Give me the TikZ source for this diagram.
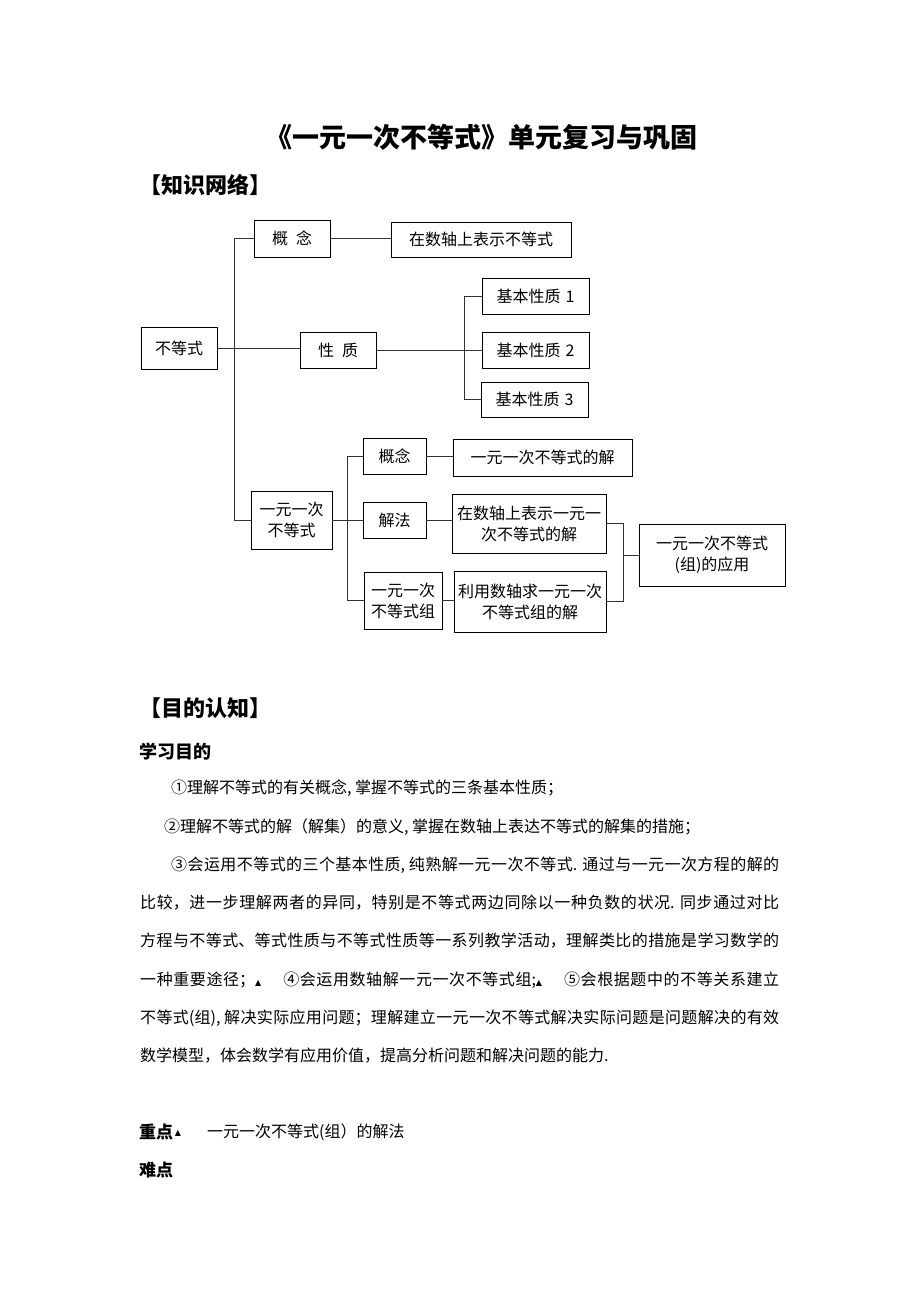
\documentclass[tikz,border=0pt]{standalone}
\usepackage{fontspec}
\setmainfont{Noto Sans CJK SC}
\newfontfamily\djv{DejaVu Sans}
\XeTeXlinebreaklocale "zh"
\XeTeXlinebreakskip=0pt plus 5pt
\newcommand{\tri}{{\djv\fontsize{8pt}{8pt}\selectfont ▲}}
\newcommand{\jfill}[2]{\parbox{#1}{\parindent=0pt\leftskip=0pt\rightskip=0pt\parfillskip=0pt #2}}
\begin{document}
\begin{tikzpicture}[x=1pt,y=-1pt,
  box/.style={draw=black, line width=0.9pt, inner sep=0pt, align=center,
    font=\fontsize{16pt}{21pt}\selectfont},
  conn/.style={draw=black!80, line width=0.8pt},
  body/.style={anchor=west, inner sep=0pt, font=\fontsize{16pt}{20pt}\selectfont},
  head/.style={anchor=west, inner sep=0pt, font=\bfseries\fontsize{22pt}{24pt}\selectfont},
  subhead/.style={anchor=west, inner sep=0pt, font=\bfseries\fontsize{18pt}{20pt}\selectfont}
]
\fill[white] (0,0) rectangle (920,1303);
\useasboundingbox (0,0) rectangle (920,1303);

% headings
\node[inner sep=0pt, font=\bfseries\fontsize{27pt}{30pt}\selectfont] (title) at (481,137) {《一元一次不等式》单元复习与巩固};
\node[head] (h1) at (139,185) {【知识网络】};

% diagram boxes
\node[box, minimum width=76pt, minimum height=42pt] (ineq) at (179,348) {不等式};
\node[box, minimum width=76pt, minimum height=37pt] (gn1) at (292,238.5) {概\hspace{8pt}念};
\node[box, minimum width=180pt, minimum height=35pt] (axis) at (481,239.5) {在数轴上表示不等式};
\node[box, minimum width=76pt, minimum height=36pt] (xz) at (338,350) {性\hspace{8pt}质};
\node[box, minimum width=107pt, minimum height=36pt] (p1) at (535.5,296) {基本性质\hspace{5pt}1};
\node[box, minimum width=107pt, minimum height=36pt] (p2) at (535.5,350) {基本性质\hspace{5pt}2};
\node[box, minimum width=107pt, minimum height=35pt] (p3) at (534.5,399.5) {基本性质\hspace{5pt}3};
\node[box, minimum width=81pt, minimum height=58pt] (yy) at (291.5,520) {一元一次\\不等式};
\node[box, minimum width=63pt, minimum height=36pt] (gn2) at (394.5,456) {概念};
\node[box, minimum width=63pt, minimum height=36pt] (jf) at (394.5,520) {解法};
\node[box, minimum width=78pt, minimum height=57pt] (zu) at (403,600.5) {一元一次\\不等式组};
\node[box, minimum width=179pt, minimum height=37pt] (jie) at (542.5,457.5) {一元一次不等式的解};
\node[box, minimum width=154pt, minimum height=59pt] (sz) at (529,523.5) {在数轴上表示一元一\\次不等式的解};
\node[box, minimum width=152pt, minimum height=61pt] (ly) at (530,601.5) {利用数轴求一元一次\\不等式组的解};
\node[box, minimum width=146pt, minimum height=62pt] (app) at (712,555) {一元一次不等式\\(组)的应用};

% connectors
\draw[conn] (gn1.west) -- ++(-19,0) |- (yy.west);
\draw[conn] (ineq.east) -- (ineq.east -| xz.west);
\draw[conn] (gn1.east) -- (gn1.east -| axis.west);
\draw[conn] (p1.west) -- ++(-17,0) |- (p3.west);
\draw[conn] (xz.east) -- (xz.east -| p2.west);
\draw[conn] (gn2.west) -- ++(-15,0) |- (zu.west);
\draw[conn] (yy.east) -- (yy.east -| jf.west);
\draw[conn] (gn2.east) -- (gn2.east -| jie.west);
\draw[conn] (jf.east) -- (jf.east -| sz.west);
\draw[conn] (zu.east) -- (zu.east -| ly.west);
\draw[conn] (sz.east) -- ++(17,0) |- (ly.east);
\draw[conn] (app.west) -- ++(-16,0);

% text section
\node[head] (h2) at (139,708) {【目的认知】};
\node[subhead] (h3) at (139,752) {学习目的};
\node[body] (l1) at (171,788) {①理解不等式的有关概念, 掌握不等式的三条基本性质；};
\node[body] (l2) at (164,827) {②理解不等式的解（解集）的意义, 掌握在数轴上表达不等式的解集的措施；};
\node[body] (l3) at (171,865) {\jfill{608pt}{③会运用不等式的三个基本性质, 纯熟解一元一次不等式. 通过与一元一次方程的解的}};
\node[body] (l4) at (140,903) {\jfill{639pt}{比较，进一步理解两者的异同，特别是不等式两边同除以一种负数的状况. 同步通过对比}};
\node[body] (l5) at (140,941) {\jfill{639pt}{方程与不等式、等式性质与不等式性质等一系列教学活动，理解类比的措施是学习数学的}};
\node[body] (l6) at (140,980) {\jfill{639pt}{一种重要途径；\tri\hspace{22pt}④会运用数轴解一元一次不等式组;\tri\hspace{22pt}⑤会根据题中的不等关系建立}};
\node[body] (l7) at (140,1018) {\jfill{639pt}{不等式(组), 解决实际应用问题；理解建立一元一次不等式解决实际问题是问题解决的有效}};
\node[body] (l8) at (140,1056) {数学模型，体会数学有应用价值，提高分析问题和解决问题的能力.};

\node[subhead, font=\bfseries\fontsize{17pt}{20pt}\selectfont] (zd) at (139,1132) {重点};
\node[inner sep=0pt] (zdm) at (178,1133) {\tri};
\node[body] (zdt) at (207,1132) {一元一次不等式(组）的解法};
\node[subhead, font=\bfseries\fontsize{17pt}{20pt}\selectfont] (nd) at (139,1170) {难点};
\end{tikzpicture}
\end{document}
